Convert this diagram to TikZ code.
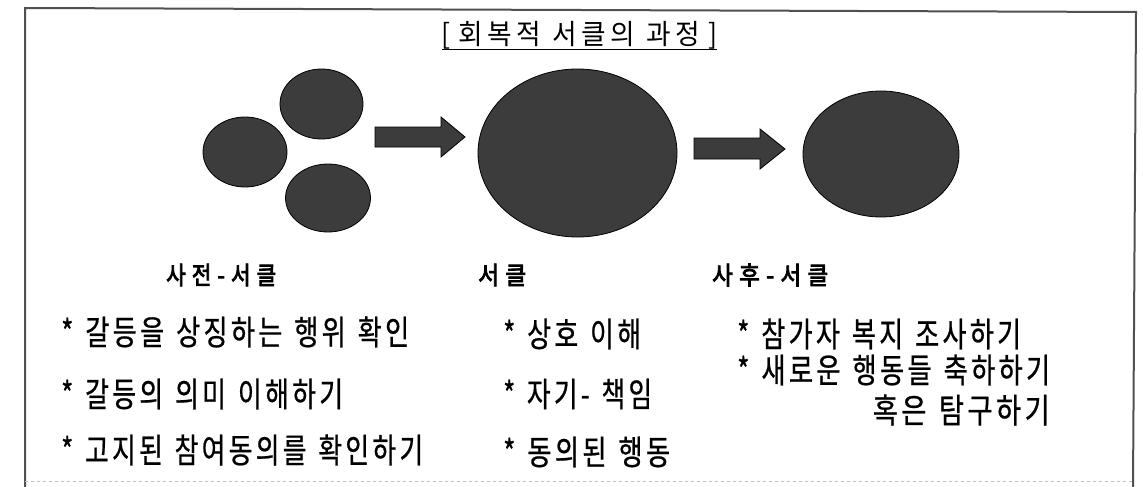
\documentclass[tikz,border=0pt]{standalone}
\usepackage{fontspec}
\usepackage{graphicx}
\usetikzlibrary{shapes.geometric}
\setmainfont{Noto Sans CJK KR}
\newfontfamily\kr[FakeStretch=0.72,WordSpace=1.3,LetterSpace=9,FakeBold=0.6]{Noto Sans CJK KR}
\newfontfamily\krh[FakeStretch=0.84,FakeBold=3.2]{Noto Sans CJK KR}
\newfontfamily\krt[FakeStretch=0.9]{Noto Sans CJK KR}
\newcommand{\hg}{\hspace{6pt}}
\newcommand{\tg}{\hspace{4pt}}
\newcommand{\tw}{\hspace{11pt}}
\newcommand{\fitw}[2]{\resizebox{#1}{\height}{#2}}
\definecolor{blobfill}{HTML}{3C3C3C}
\definecolor{framec}{HTML}{505050}
\begin{document}
\begin{tikzpicture}[x=1pt,y=-1pt,
  blob/.style={ellipse, draw=black, line width=0.8pt, fill=blobfill, inner sep=0pt},
  blockarrow/.style={draw=black, line width=0.8pt, fill=blobfill},
  body/.style={anchor=west, inner sep=0pt, font=\kr\fontsize{34}{34}\selectfont},
  bodyr/.style={anchor=east, inner sep=0pt, font=\kr\fontsize{34}{34}\selectfont},
  head/.style={anchor=west, inner sep=0pt, font=\krh\fontsize{25}{25}\selectfont},
  titlestyle/.style={inner sep=0pt, font=\krt\fontsize{28}{28}\selectfont}
]
\useasboundingbox (0,0) rectangle (1143,487);
\fill[white] (0,0) rectangle (1143,487);
\draw[framec, line width=2pt] (25,487) -- (25,8) -- (1136,12) -- (1133,487);
\draw[black!25, line width=0.8pt, dash pattern=on 3pt off 3pt] (25,481) -- (1133,481);

% title
\node[titlestyle] (title) at (579.5,35) {\fitw{276pt}{[\hspace{8pt}회\tg 복\tg 적\tw 서\tg 클\tg 의\tw 과\tg 정\hspace{8pt}]}};
\draw[line width=1pt] (442,50) -- (717,50);

% circles
\node[blob, minimum width=83pt, minimum height=70pt] (p1) at (321.5,104) {};
\node[blob, minimum width=84pt, minimum height=70pt] (p2) at (245,152) {};
\node[blob, minimum width=85pt, minimum height=68pt] (p3) at (328,198) {};
\node[blob, minimum width=199pt, minimum height=168pt] (c) at (577.5,153) {};
\node[blob, minimum width=156pt, minimum height=126pt] (post) at (881,154) {};

% block arrows
\draw[blockarrow] (375,127) -- (441,127) -- (441,117) -- (465,137) -- (441,157) -- (441,147) -- (375,147) -- cycle;
\draw[blockarrow] (694,138) -- (760,138) -- (760,129) -- (785,149) -- (760,169) -- (760,159) -- (694,159) -- cycle;

% headings
\node[head] (h1) at (166,275) {\fitw{110pt}{사\hg 전\hg -\hg 서\hg 클}};
\node[head] (h2) at (478,275) {\fitw{48pt}{서\hg 클}};
\node[head] (h3) at (712,275) {\fitw{116pt}{사\hg 후\hg -\hg 서\hg 클}};

% left column
\node[body] (l1) at (61,332) {\fitw{348pt}{* 갈등을 상징하는 행위 확인}};
\node[body] (l2) at (61,394) {\fitw{282pt}{* 갈등의 의미 이해하기}};
\node[body] (l3) at (61,450) {\fitw{362pt}{* 고지된 참여동의를 확인하기}};

% middle column
\node[body] (m1) at (503,334) {\fitw{138pt}{* 상호 이해}};
\node[body] (m2) at (503,394) {\fitw{149pt}{* 자기- 책임}};
\node[body] (m3) at (503,452) {\fitw{167pt}{* 동의된 행동}};

% right column
\node[body] (r1) at (737,334) {\fitw{284pt}{* 참가자 복지 조사하기}};
\node[body] (r2) at (737,370) {\fitw{313pt}{* 새로운 행동들 축하하기}};
\node[bodyr] (r3) at (1050,410) {\fitw{177pt}{혹은 탐구하기}};
\end{tikzpicture}
\end{document}
